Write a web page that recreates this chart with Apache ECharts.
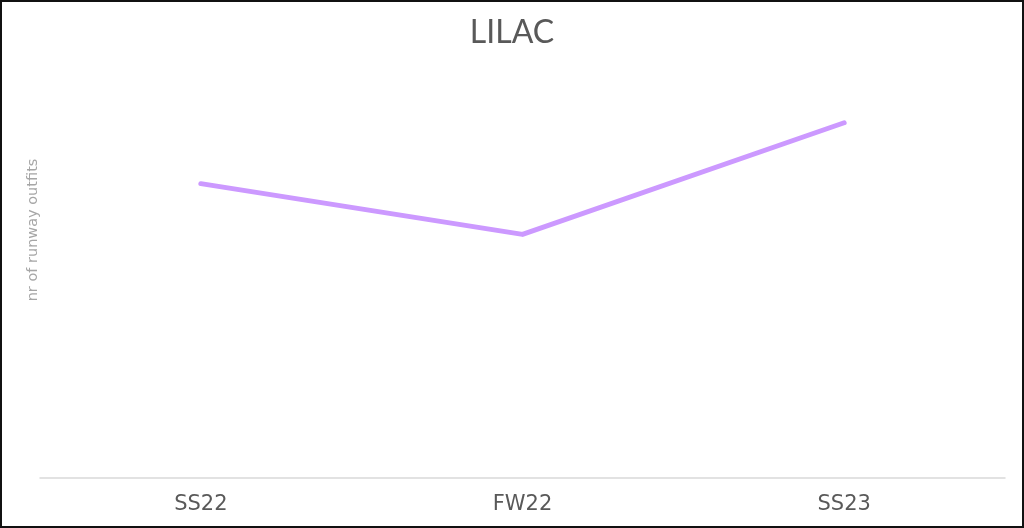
<!DOCTYPE html>
<html>
<head>
<meta charset="utf-8">
<script src="https://cdn.jsdelivr.net/npm/echarts@6/dist/echarts.min.js"></script>
<style>
html,body{margin:0;padding:0;background:#fff;}
#chart{width:1024px;height:528px;}
</style>
</head>
<body>
<div id="chart"></div>
<script>
const categories = ['SS22', 'FW22', 'SS23'];
const outfits = [29, 24, 35];
const chartTitle = 'LILAC';
const yAxisName = 'nr of runway outfits';

const chart = echarts.init(document.getElementById('chart'));
chart.setOption({
  animation: false,
  title: {
    text: chartTitle,
    left: 'center',
    top: 12,
    textStyle: { fontFamily: 'Lato', fontWeight: 'normal', fontSize: 32, color: '#595959' }
  },
  grid: { left: 40, right: 19, top: 72, bottom: 50, outerBoundsMode: 'none', containLabel: false },
  xAxis: {
    type: 'category',
    data: categories,
    boundaryGap: true,
    axisLine: { lineStyle: { color: '#d9d9d9', width: 1.5 } },
    axisTick: { show: false },
    axisLabel: { fontFamily: 'DejaVu Sans', fontSize: 21, color: '#595959', margin: 16 }
  },
  yAxis: {
    type: 'value',
    min: 0,
    max: 40,
    name: yAxisName,
    nameLocation: 'middle',
    nameRotate: 90,
    nameGap: -1,
    nameTextStyle: { fontFamily: 'DejaVu Sans', fontSize: 14.5, color: '#a6a6a6', padding: [0, 0, 0, 90] },
    axisLine: { show: false },
    axisTick: { show: false },
    axisLabel: { show: false },
    splitLine: { show: false }
  },
  series: [{
    type: 'line',
    data: outfits,
    showSymbol: false,
    symbol: 'none',
    lineStyle: { color: '#cc99ff', width: 5, cap: 'round', join: 'round' }
  }],
  graphic: [{
    type: 'rect',
    shape: { x: 1, y: 1, width: 1022, height: 526 },
    style: { fill: 'none', stroke: '#111', lineWidth: 2 },
    silent: true
  }]
});
</script>
</body>
</html>
